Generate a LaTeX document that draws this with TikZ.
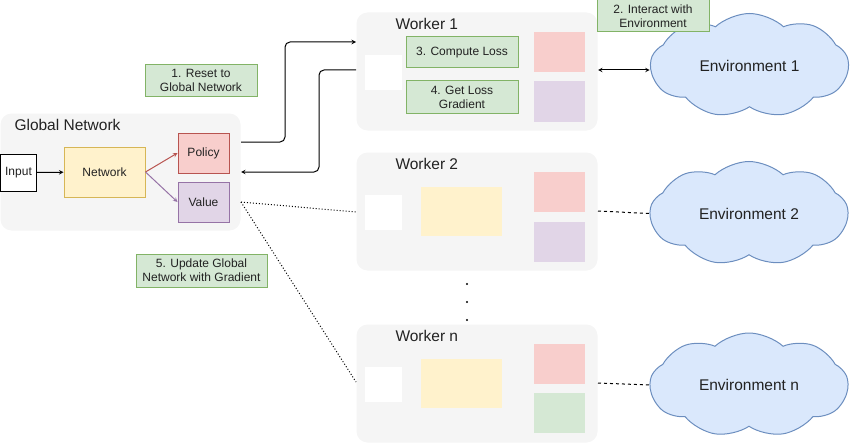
\documentclass[tikz,border=0pt]{standalone}
\usepackage{fontspec}
\setmainfont{Liberation Sans}
\usetikzlibrary{shapes.symbols}

\definecolor{panelgray}{HTML}{F5F5F5}
\definecolor{netfill}{HTML}{FFF2CC}
\definecolor{netline}{HTML}{D6B656}
\definecolor{polfill}{HTML}{F8CECC}
\definecolor{polline}{HTML}{B85450}
\definecolor{valfill}{HTML}{E1D5E7}
\definecolor{valline}{HTML}{9673A6}
\definecolor{notefill}{HTML}{D5E8D4}
\definecolor{noteline}{HTML}{82B366}
\definecolor{cloudfill}{HTML}{DAE8FC}
\definecolor{cloudline}{HTML}{6C8EBF}
\definecolor{ink}{HTML}{222222}

\begin{document}
\begin{tikzpicture}[x=1pt, y=-1pt, line width=1pt,
  panel/.style={fill=panelgray, rounded corners=11pt, anchor=north west, inner sep=0pt},
  title/.style={anchor=west, inner sep=0pt, text=ink, font=\fontsize{15.5}{18}\selectfont},
  small/.style={inner sep=0pt, text=ink, align=center, font=\fontsize{12}{14}\selectfont},
  inbox/.style={small, draw=black, fill=white, minimum width=36, minimum height=37},
  netbox/.style={small, draw=netline, fill=netfill, minimum width=81, minimum height=50},
  polbox/.style={small, draw=polline, fill=polfill, minimum width=51, minimum height=40},
  valbox/.style={small, draw=valline, fill=valfill, minimum width=51, minimum height=40},
  note/.style={small, draw=noteline, fill=notefill, minimum width=112, minimum height=31},
  blank/.style={fill=white, inner sep=0pt, minimum width=37, minimum height=35},
  shade/.style={fill=#1, inner sep=0pt, minimum width=51, minimum height=40},
  envbox/.style={cloud, cloud puffs=9, cloud puff arc=85, aspect=1.9, draw=cloudline,
    fill=cloudfill, inner sep=0pt, minimum width=198, minimum height=104, text=ink,
    font=\fontsize{15.5}{18}\selectfont},
  arr/.style={-stealth, black},
]
\useasboundingbox (0,0) rectangle (857,444);

% global network
\node[panel, minimum width=240, minimum height=117] (gnet) at (0,113) {};
\node[title] (gtitle) at (14,125) {Global Network};
\node[inbox] (input) at (18.5,172.5) {Input};
\node[netbox] (network) at (104.5,172) {Network};
\node[polbox] (policy) at (203.5,153) {Policy};
\node[valbox] (value) at (203.5,202) {Value};
\draw[arr] (input) -- (network);
\draw[-stealth, polline] (network.east) -- (policy.west);
\draw[-stealth, valline] (network.east) -- (value.west);

% workers
\foreach \w/\y in {1/12,2/152,n/324}{
  \node[panel, minimum width=241, minimum height=118] (w\w) at (356,\y) {};
  \node[title] (w\w title) at (395,\y+12) {Worker \w};
  \node[blank] (w\w in) at (383.5,\y+60.5) {};
  \node[shade=polfill] (w\w pol) at (559.5,\y+40) {};
}
\foreach \w/\y in {2/152,n/324}{
  \node[shade=netfill, minimum width=81, minimum height=49] (w\w net) at (461,\y+59) {};
}
\node[shade=valfill] (w1val) at (559.5,101.5) {};
\node[shade=valfill] (w2val) at (559.5,241.5) {};
\node[shade=notefill] (wnval) at (559.5,413) {};
\node[note] (loss) at (462,52.5) {3. Compute Loss};
\node[note, minimum height=32] (grad) at (462,97) {4. Get Loss\\Gradient};
\foreach \y in {284,302,320}
  \fill (467,\y) circle (1.1);

% environments
\node[envbox] (env1) at (749.5,65.5) {Environment 1};
\node[envbox] (env2) at (749,213.5) {Environment 2};
\node[envbox] (envn) at (749,385) {Environment n};

% steps
\node[note] (reset) at (201,80.5) {1. Reset to\\Global Network};
\node[note, minimum height=32] (interact) at (653,16) {2. Interact with\\Environment};
\node[note, minimum width=131, minimum height=33] (update) at (201.5,270.5) {5. Update Global\\Network with Gradient};

% connectors
\draw[arr, rounded corners=5pt] (gnet.east |- 0,142) -- (285,142) -- (285,42) -- (w1.west |- 0,42);
\draw[arr, rounded corners=5pt] (w1.west |- 0,70) -- (319,70) -- (319,172) -- (gnet.east |- 0,172);
\draw[stealth-stealth] (w1.east |- 0,70) -- (env1.west |- 0,70);
\draw[dashed] (w2.east |- 0,211) -- (env2.west);
\draw[dashed] (wn.east |- 0,383) -- (envn.west);
\draw[dotted] (gnet.east |- 0,202) -- (w2.west |- 0,212);
\draw[dotted] (gnet.east |- 0,202) -- (wn.west |- 0,382);
\end{tikzpicture}
\end{document}
